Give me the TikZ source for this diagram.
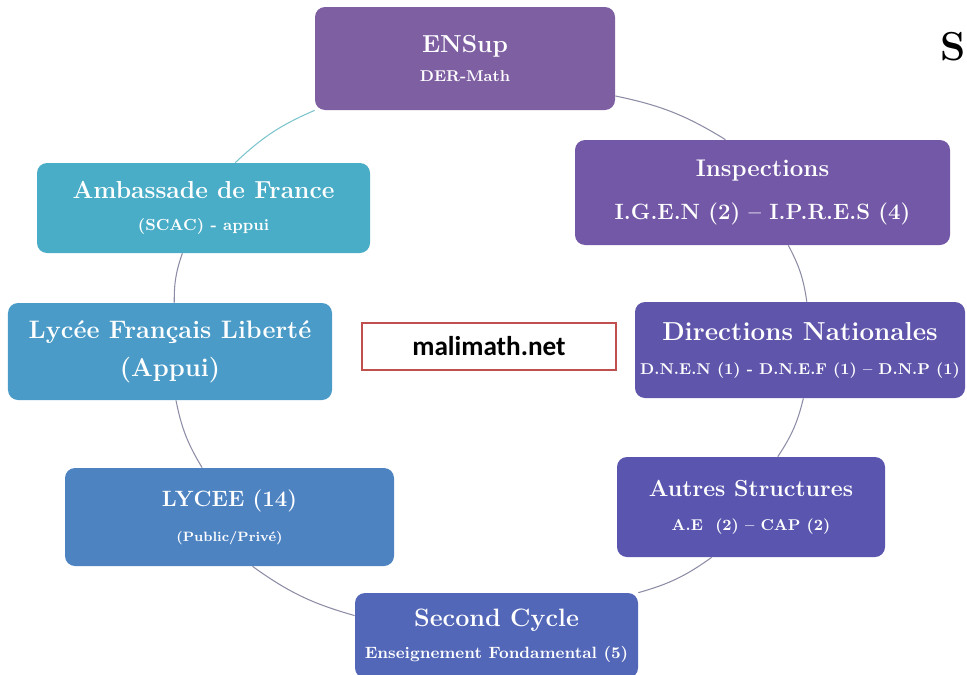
\documentclass[tikz,border=0pt]{standalone}
\usepackage{fontspec}
\usepackage{tikz}
\newfontfamily\maliFont{Carlito}
\definecolor{ensColor}{HTML}{7E5FA2}
\definecolor{inspColor}{HTML}{7258A6}
\definecolor{ambColor}{HTML}{4AADC7}
\definecolor{lflColor}{HTML}{4A9BC7}
\definecolor{dirColor}{HTML}{5F56AC}
\definecolor{autColor}{HTML}{5A56B0}
\definecolor{lycColor}{HTML}{4E83C2}
\definecolor{secColor}{HTML}{5367B8}
\definecolor{linkGray}{HTML}{8C8CA6}
\definecolor{linkTeal}{HTML}{7CC4CC}
\definecolor{maliRed}{HTML}{C0504D}
\newcommand{\boxText}[2][9]{{\fontsize{#1}{#1}\selectfont #2}}

\begin{document}
\begin{tikzpicture}[
	box/.style={rounded corners=0.2cm, text=white, align=center, inner sep=0pt, font=\bfseries\fontsize{14}{18}\selectfont},
	link/.style={line width=0.6pt, bend left=10},
	]
	\useasboundingbox (0,0) rectangle (19.34,-13.48);

	\node[box, fill=ensColor, minimum width=6cm, minimum height=2.06cm] (ens) at (9.30,-1.17) {ENSup\\[-1.5pt]\boxText[8.9]{DER-Math}};
	\node[box, fill=inspColor, minimum width=7.5cm, minimum height=2.1cm] (insp) at (15.25,-3.85) {\boxText[13.7]{Inspections}\\[6pt]\boxText[12.6]{I.G.E.N (2) -- I.P.R.E.S (4)}};
	\node[box, fill=ambColor, minimum width=6.66cm, minimum height=1.8cm] (amb) at (4.07,-4.16) {Ambassade de France\\[0pt]\boxText[9.1]{(SCAC) - appui}};
	\node[box, fill=lflColor, minimum width=6.48cm, minimum height=1.94cm] (lfl) at (3.40,-7.03) {\boxText[14.4]{Lycée Français Liberté}\\[3.5pt]\boxText[14.6]{(Appui)}};
	\node[box, fill=dirColor, minimum width=6.6cm, minimum height=1.92cm] (dir) at (16.00,-7.00) {\boxText[14.8]{Directions Nationales}\\[1.3pt]\boxText[8.9]{D.N.E.N (1) - D.N.E.F (1) -- D.N.P (1)}};
	\node[box, fill=autColor, minimum width=5.36cm, minimum height=2cm] (aut) at (15.02,-10.14) {\boxText[13.2]{Autres Structures}\\[1.3pt]\boxText[8.9]{A.E~ (2) -- CAP (2)}};
	\node[box, fill=lycColor, minimum width=6.58cm, minimum height=1.96cm] (lyc) at (4.59,-10.34) {\boxText[12.6]{LYCEE (14)}\\[2pt]\boxText[7.7]{(Public/Privé)}};
	\node[box, fill=secColor, minimum width=5.66cm, minimum height=1.7cm] (sec) at (9.93,-12.71) {\boxText[14.3]{Second Cycle}\\[0pt]\boxText[9.3]{Enseignement Fondamental (5)}};

	\node[draw=maliRed, line width=1.2pt, fill=white, minimum width=5.08cm, minimum height=0.94cm, font=\maliFont\bfseries\fontsize{15.5}{18}\selectfont] (mali) at (9.78,-6.93) {malimath.net};
	\node[anchor=base east, inner sep=0pt, font=\bfseries\fontsize{23}{23}\selectfont] (s) at (19.32,-1.2) {S};

	\foreach \a/\b/\col in {ens.346/insp.125/linkGray, insp.296/dir.82/linkGray, dir.274/aut.62/linkGray, aut.232/sec.north east/linkGray, sec.172/lyc.295/linkGray, lyc.119/lfl.277/linkGray, lfl.85/amb.245/linkGray, amb.55/ens.south west/linkTeal} {
		\draw[link, draw=\col] (\a) to (\b);
	}
\end{tikzpicture}
\end{document}
